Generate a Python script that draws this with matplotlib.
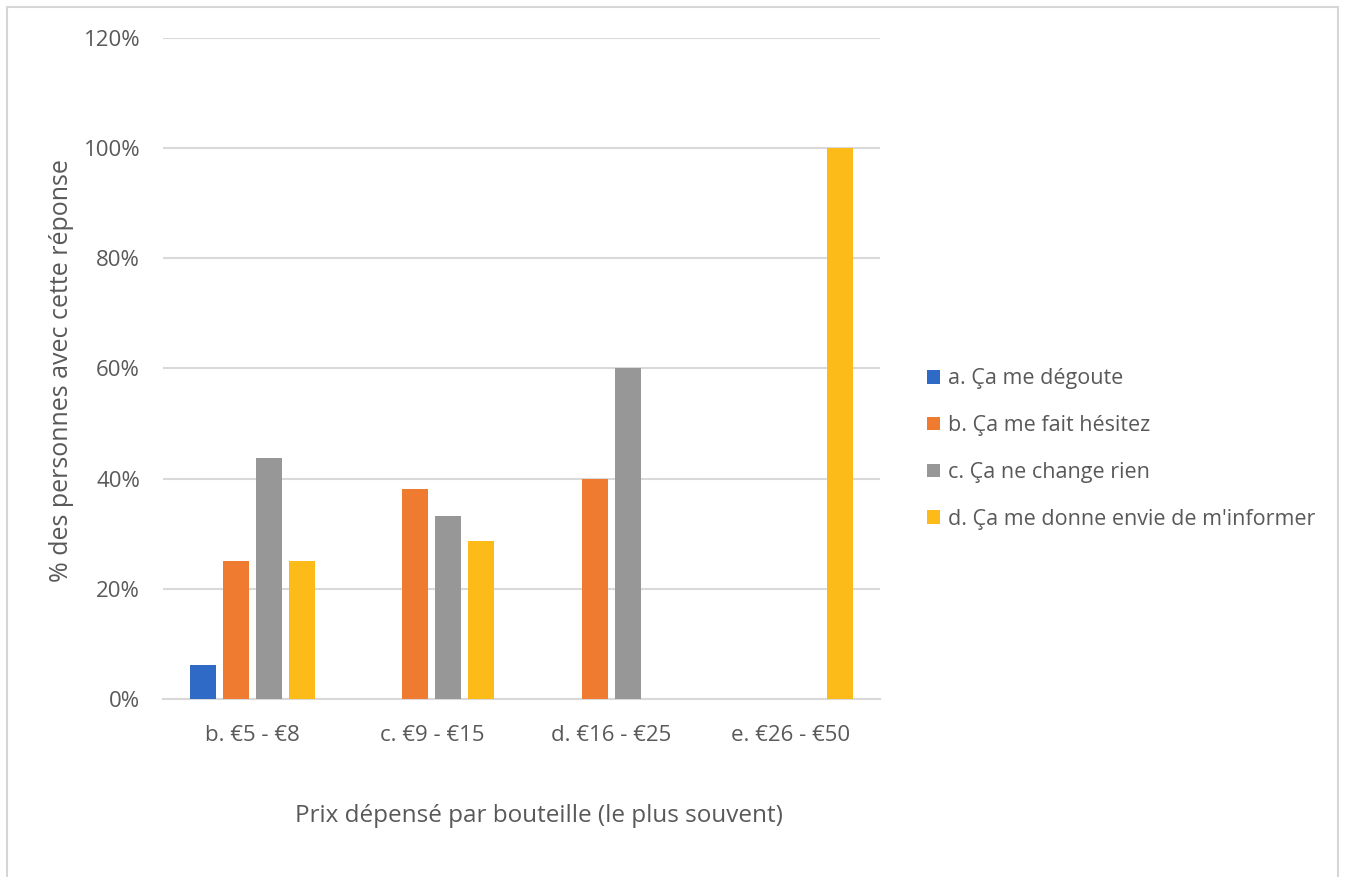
import numpy as np
import matplotlib
matplotlib.use('Agg')
import matplotlib.pyplot as plt
from matplotlib.patches import Rectangle

# Survey shares per price bracket
categories = ['b. €5 - €8', 'c. €9 - €15', 'd. €16 - €25', 'e. €26 - €50']
series_labels = [
    'a. Ça me dégoute',
    'b. Ça me fait hésitez',
    'c. Ça ne change rien',
    "d. Ça me donne envie de m'informer",
]
degoute = [0.0625, 0.0, 0.0, 0.0]
hesitez = [0.25, 0.381, 0.40, 0.0]
change_rien = [0.4375, 0.333, 0.60, 0.0]
informer = [0.25, 0.286, 0.0, 1.0]
yticks = [0, 0.2, 0.4, 0.6, 0.8, 1.0, 1.2]

colors = ['#2f6bc6', '#ee7b30', '#979797', '#fdbb1a']
text_color = '#595959'
grid_color = '#d9d9d9'

plt.rcParams['font.family'] = ['Open Sans', 'DejaVu Sans']

fig = plt.figure(figsize=(13.45, 8.77), dpi=100)
ax = fig.add_axes([0.1212, 0.2030, 0.5331, 0.7537])

# light frame round the whole chart
fig.patches.append(Rectangle((0.005, -0.01), 0.99, 1.002, transform=fig.transFigure,
                             fill=False, edgecolor='#d6d6d6', linewidth=1.5))

x = np.arange(len(categories))
slot = 0.184
width = 0.145
all_series = [degoute, hesitez, change_rien, informer]
for i, (vals, lab, col) in enumerate(zip(all_series, series_labels, colors)):
    ax.bar(x + (i - 1.5) * slot, vals, width=width, color=col, label=lab, zorder=3)

ax.set_xlim(-0.5, len(categories) - 0.5)
ax.set_ylim(0, 1.2)
ax.set_yticks(yticks)
ax.set_yticklabels([f'{int(round(t * 100))}%' for t in yticks])
ax.set_xticks(x)
ax.set_xticklabels(categories)
ax.yaxis.grid(True, color=grid_color, linewidth=1.5, zorder=0)
ax.set_axisbelow(True)

for side in ['top', 'right', 'left']:
    ax.spines[side].set_visible(False)
ax.spines['bottom'].set_color(grid_color)
ax.spines['bottom'].set_linewidth(1.5)

ax.tick_params(axis='both', length=0, labelsize=16, labelcolor=text_color)
ax.tick_params(axis='y', pad=16.5)
ax.tick_params(axis='x', pad=19)

fig.text(0.401, 0.07, 'Prix dépensé par bouteille (le plus souvent)', ha='center', va='center',
         fontsize=17.5, color=text_color)
fig.text(0.046, 0.578, '% des personnes avec cette réponse', ha='center', va='center',
         rotation=90, fontsize=18, color=text_color)

fig.legend(loc='center left', bbox_to_anchor=(0.675, 0.488), frameon=False,
           fontsize=15.5, labelcolor=text_color, handlelength=0.6, handleheight=0.6,
           handletextpad=0.35, labelspacing=1.2)

fig.savefig('out.png', dpi=100, facecolor='white')
